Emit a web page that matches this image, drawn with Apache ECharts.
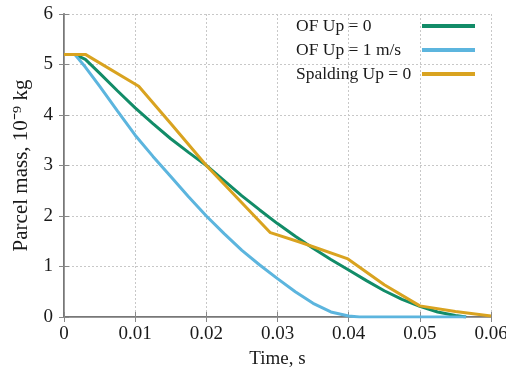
<!DOCTYPE html>
<html>
<head>
<meta charset="utf-8">
<script src="https://cdn.jsdelivr.net/npm/echarts@6/dist/echarts.min.js"></script>
<style>
  html, body { margin: 0; padding: 0; background: #fff; }
  #chart { width: 506px; height: 370px; }
</style>
</head>
<body>
<div id="chart"></div>
<script>
// values
const seriesNames = ["OF Up = 0", "OF Up = 1 m/s", "Spalding Up = 0"];

const ofUp0Time = [0, 0.0015, 0.003, 0.005, 0.0075, 0.01, 0.0125, 0.015, 0.0175, 0.02, 0.0225, 0.025, 0.0275, 0.03, 0.0325, 0.035, 0.0375, 0.04, 0.0425, 0.045, 0.0475, 0.05, 0.0525, 0.055, 0.0565];
const ofUp0Mass = [5.2, 5.2, 5.1, 4.83, 4.48, 4.14, 3.83, 3.53, 3.26, 3.0, 2.7, 2.4, 2.12, 1.85, 1.6, 1.36, 1.14, 0.93, 0.72, 0.52, 0.35, 0.21, 0.1, 0.03, 0];

const ofUp1Time = [0, 0.0015, 0.003, 0.005, 0.0075, 0.01, 0.0125, 0.015, 0.0175, 0.02, 0.0225, 0.025, 0.0275, 0.03, 0.0325, 0.035, 0.0375, 0.04, 0.0415, 0.0565];
const ofUp1Mass = [5.2, 5.2, 4.95, 4.57, 4.08, 3.6, 3.18, 2.78, 2.38, 2.0, 1.65, 1.32, 1.03, 0.76, 0.5, 0.27, 0.1, 0.02, 0, 0];

const spaldingTime = [0, 0.003, 0.0105, 0.015, 0.02, 0.029, 0.0332, 0.0399, 0.045, 0.05, 0.055, 0.06];
const spaldingMass = [5.2, 5.2, 4.57, 3.83, 3.0, 1.67, 1.48, 1.15, 0.64, 0.22, 0.11, 0.02];

const colors = ["#128c68", "#5cb5de", "#d9a320"];
const font = "Liberation Serif";
const textColor = "#1a1a1a";

function pairs(t, v) {
  return t.map((x, i) => [x, v[i]]);
}

const chart = echarts.init(document.getElementById("chart"));

const tickStyle = { inside: true, length: 5, lineStyle: { color: "#888", width: 1 } };
const gridLine = { show: true, lineStyle: { color: "#c8c8c8", type: [2, 2], width: 1 } };

chart.setOption({
  animation: false,
  color: colors,
  grid: { left: 64, right: 15, top: 14, bottom: 53, outerBoundsMode: "none", containLabel: false },
  legend: {
    orient: "vertical",
    align: "right",
    right: 31,
    top: 17,
    padding: 0,
    itemGap: 6,
    itemWidth: 53,
    itemHeight: 4,
    icon: "rect",
    data: seriesNames,
    formatter: (name) => "{t|" + name + "}",
    textStyle: {
      fontFamily: font,
      fontSize: 17.5,
      color: textColor,
      rich: { t: { width: 121, align: "left", fontFamily: font, fontSize: 17.5, lineHeight: 20, color: textColor } }
    }
  },
  xAxis: [
    {
      type: "value",
      min: 0,
      max: 0.06,
      interval: 0.01,
      name: "Time, s",
      nameLocation: "middle",
      nameGap: 33,
      nameTextStyle: { fontFamily: font, fontSize: 19, color: textColor },
      axisLine: { show: true, lineStyle: { color: "#777", width: 2 } },
      axisTick: tickStyle,
      axisLabel: { margin: 8, fontFamily: font, fontSize: 19, color: textColor, formatter: (v) => (v === 0 ? "0" : v.toFixed(2)) },
      splitLine: gridLine
    },
    {
      type: "value",
      position: "top",
      min: 0,
      max: 0.06,
      interval: 0.01,
      axisLine: { show: true, lineStyle: { color: "#999", width: 1 } },
      axisTick: tickStyle,
      axisLabel: { show: false },
      splitLine: { show: false }
    }
  ],
  yAxis: [
    {
      type: "value",
      min: 0,
      max: 6,
      interval: 1,
      name: "Parcel mass, 10\u207B\u2079 kg",
      nameLocation: "middle",
      nameGap: 32,
      nameTextStyle: { fontFamily: font, fontSize: 21, color: textColor },
      axisLine: { show: true, lineStyle: { color: "#777", width: 2 } },
      axisTick: tickStyle,
      axisLabel: { margin: 11, fontFamily: font, fontSize: 19, color: textColor },
      splitLine: gridLine
    },
    {
      type: "value",
      position: "right",
      min: 0,
      max: 6,
      interval: 1,
      axisLine: { show: true, lineStyle: { color: "#999", width: 1 } },
      axisTick: tickStyle,
      axisLabel: { show: false },
      splitLine: { show: false }
    }
  ],
  series: [
    { name: seriesNames[0], type: "line", showSymbol: false, data: pairs(ofUp0Time, ofUp0Mass), lineStyle: { width: 3 } },
    { name: seriesNames[1], type: "line", showSymbol: false, data: pairs(ofUp1Time, ofUp1Mass), lineStyle: { width: 3 } },
    { name: seriesNames[2], type: "line", showSymbol: false, data: pairs(spaldingTime, spaldingMass), lineStyle: { width: 3 } }
  ]
});
</script>
</body>
</html>
